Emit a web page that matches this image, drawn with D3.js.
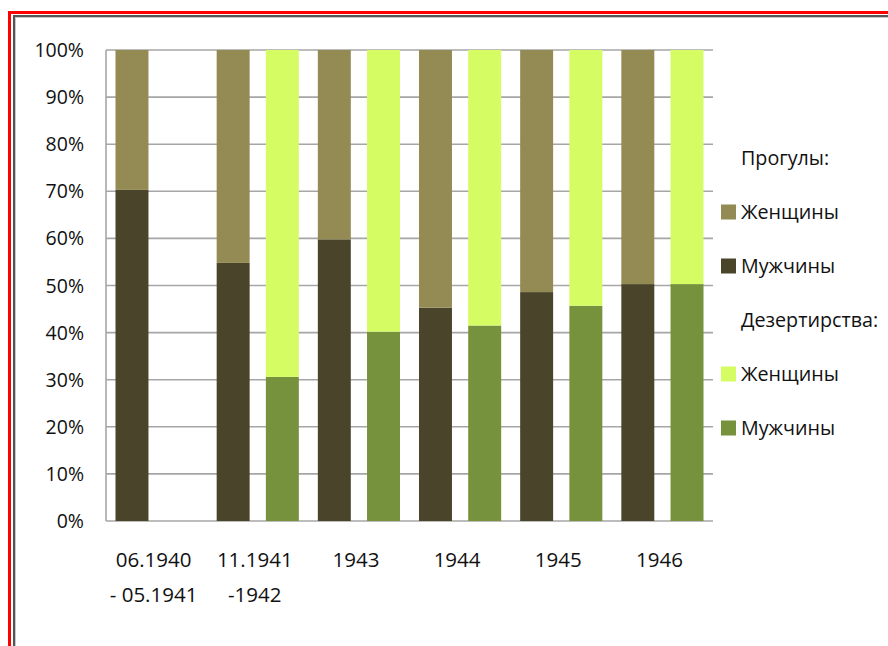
<!DOCTYPE html>
<html>
<head>
<meta charset="utf-8">
<script src="https://cdn.jsdelivr.net/npm/d3@7"></script>
<style>
  html, body { margin: 0; padding: 0; background: #fff; }
  svg { display: block; }
  text { font-family: "Open Sans", "Liberation Sans", sans-serif; fill: #111; }
</style>
</head>
<body>
<svg id="chart" width="888" height="646"></svg>
<script>
// ---- data ----
const categories = [["06.1940", "- 05.1941"], ["11.1941", "-1942"], ["1943"], ["1944"], ["1945"], ["1946"]];
const truancyMen   = [70.3, 54.8, 59.8, 45.3, 48.6, 50.3];
const truancyWomen = [29.7, 45.2, 40.2, 54.7, 51.4, 49.7];
const desertMen    = [null, 30.6, 40.2, 41.5, 45.7, 50.3];
const desertWomen  = [null, 69.4, 59.8, 58.5, 54.3, 49.7];
const yTicks = [0, 10, 20, 30, 40, 50, 60, 70, 80, 90, 100];
const legendItems = [
  { label: "Прогулы:", color: null },
  { label: "Женщины", color: "#948A54" },
  { label: "Мужчины", color: "#4A452A" },
  { label: "Дезертирства:", color: null },
  { label: "Женщины", color: "#D5FC63" },
  { label: "Мужчины", color: "#76923C" }
];

const colors = { tMen: "#4A452A", tWomen: "#948A54", dMen: "#76923C", dWomen: "#D5FC63" };

const svg = d3.select("#chart");

// ---- frame ----
svg.append("line").attr("x1", 9.5).attr("x2", 9.5).attr("y1", 11).attr("y2", 646)
  .attr("stroke", "#ff0000").attr("stroke-width", 3);
svg.append("line").attr("x1", 8).attr("x2", 888).attr("y1", 12.5).attr("y2", 12.5)
  .attr("stroke", "#ff0000").attr("stroke-width", 3);
svg.append("line").attr("x1", 14).attr("x2", 14).attr("y1", 15).attr("y2", 646)
  .attr("stroke", "#555").attr("stroke-width", 2);
svg.append("line").attr("x1", 13).attr("x2", 888).attr("y1", 16).attr("y2", 16)
  .attr("stroke", "#555").attr("stroke-width", 2);
svg.append("line").attr("x1", 15.5).attr("x2", 15.5).attr("y1", 17).attr("y2", 646)
  .attr("stroke", "#c8c8c8").attr("stroke-width", 1);
svg.append("line").attr("x1", 15).attr("x2", 888).attr("y1", 17.5).attr("y2", 17.5)
  .attr("stroke", "#c8c8c8").attr("stroke-width", 1);

// ---- scales ----
const plot = { left: 106, right: 713, top: 50, bottom: 521 };
const x = d3.scaleBand().domain(d3.range(categories.length)).range([plot.left, plot.right]).padding(0);
const sub = d3.scaleBand().domain(["t", "d"]).range([0, x.bandwidth()])
  .paddingInner(0.33).paddingOuter(0.193);
const y = d3.scaleLinear().domain([0, 100]).range([plot.bottom, plot.top]);

// ---- gridlines ----
svg.append("g").selectAll("line").data(yTicks).join("line")
  .attr("x1", plot.left).attr("x2", plot.right)
  .attr("y1", d => y(d)).attr("y2", d => y(d))
  .attr("stroke", "#a6a6a6").attr("stroke-width", 1.6);
svg.append("line").attr("x1", plot.left).attr("x2", plot.left)
  .attr("y1", plot.top).attr("y2", plot.bottom)
  .attr("stroke", "#a6a6a6").attr("stroke-width", 1.6);

// ---- bars ----
const bars = svg.append("g");
function stack(menArr, womenArr, key, cMen, cWomen) {
  menArr.forEach((m, i) => {
    if (m == null) return;
    const w = womenArr[i];
    const x0 = x(i) + sub(key);
    bars.append("rect").attr("x", x0).attr("width", sub.bandwidth())
      .attr("y", y(m)).attr("height", y(0) - y(m)).attr("fill", cMen);
    bars.append("rect").attr("x", x0).attr("width", sub.bandwidth())
      .attr("y", y(m + w)).attr("height", y(m) - y(m + w)).attr("fill", cWomen);
  });
}
stack(truancyMen, truancyWomen, "t", colors.tMen, colors.tWomen);
stack(desertMen, desertWomen, "d", colors.dMen, colors.dWomen);

// ---- y axis labels ----
svg.append("g").selectAll("text").data(yTicks).join("text")
  .attr("x", 84).attr("y", d => y(d)).attr("dy", "0.36em")
  .attr("text-anchor", "end").style("font-size", "19.5px")
  .text(d => d + "%");

// ---- x labels ----
const xl = svg.append("g");
categories.forEach((lines, i) => {
  const t = xl.append("text").attr("text-anchor", "middle").style("font-size", "20.5px");
  lines.forEach((ln, j) => {
    t.append("tspan").attr("x", x(i) + x.bandwidth() / 2 - 3).attr("y", 567 + j * 35).text(ln);
  });
});

// ---- legend ----
const lg = svg.append("g");
legendItems.forEach((it, i) => {
  const cy = 158 + i * 54;
  if (it.color) {
    lg.append("rect").attr("x", 721).attr("y", cy - 7.5).attr("width", 15).attr("height", 15)
      .attr("fill", it.color);
  }
  lg.append("text").attr("x", 741).attr("y", cy).attr("dy", "0.36em")
    .style("font-size", "19.7px").text(it.label);
});
</script>
</body>
</html>
